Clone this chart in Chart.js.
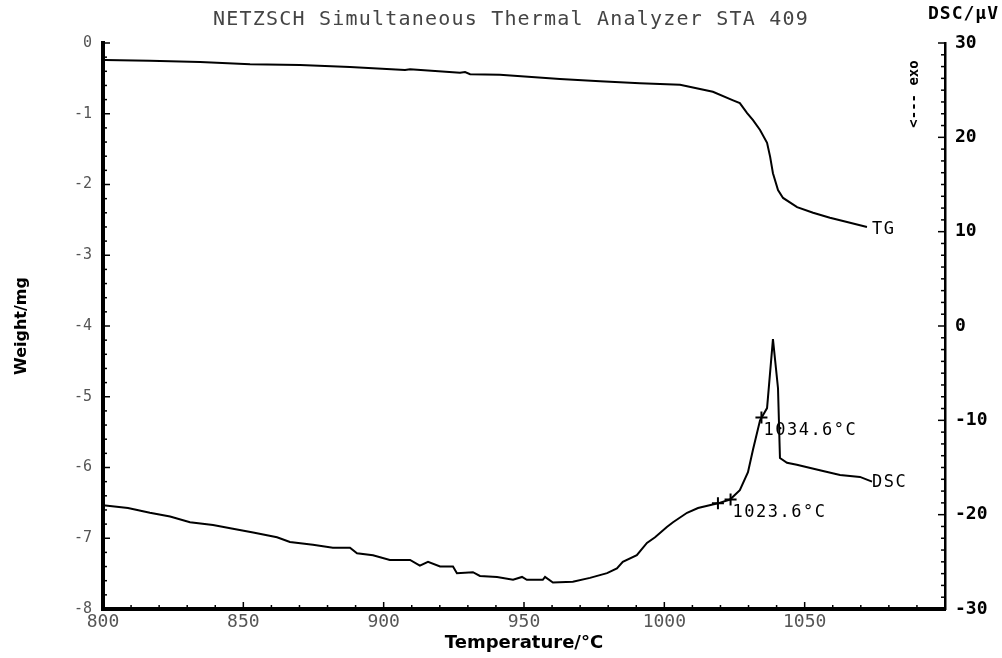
<!DOCTYPE html>
<html>
<head>
<meta charset="utf-8">
<title>NETZSCH Simultaneous Thermal Analyzer STA 409</title>
<script src="https://cdn.jsdelivr.net/npm/chart.js@4.4.1/dist/chart.umd.min.js"></script>
<style>
html, body { margin: 0; padding: 0; background: #fff; }
#wrap { width: 1002px; height: 658px; }
</style>
</head>
<body>
<div id="wrap"><canvas id="sta" width="1002" height="658"></canvas></div>
<script>
// TG trace: weight change (mg) against temperature (°C)
var tgTemp = [800.7, 816.7, 834.6, 852.4, 870.2, 888.0, 907.6, 909.4, 927.2, 929.0, 930.8, 941.4,
    962.8, 977.1, 991.3, 1005.6, 1017.3, 1024.5, 1026.9, 1029.5, 1031.6, 1034.1, 1036.6, 1037.7,
    1038.7, 1040.5, 1042.3, 1047.3, 1053.0, 1059.0, 1065.1, 1072.2];
var tgWeight = [-0.24, -0.25, -0.27, -0.30, -0.31, -0.34, -0.38, -0.37, -0.42, -0.41, -0.44, -0.45,
    -0.51, -0.54, -0.57, -0.59, -0.69, -0.81, -0.85, -0.99, -1.09, -1.23, -1.41, -1.61,
    -1.84, -2.08, -2.19, -2.32, -2.40, -2.47, -2.53, -2.60];

// DSC trace: signal (µV) against temperature (°C)
var dscTemp = [800.0, 808.9, 816.7, 823.9, 831.0, 839.2, 846.3, 853.5, 862.0, 866.6, 874.8, 881.9,
    888.0, 890.5, 896.2, 902.2, 909.4, 912.9, 915.8, 920.1, 924.7, 926.1, 931.8, 934.3,
    940.4, 946.1, 949.3, 951.0, 956.7, 957.5, 960.3, 967.4, 973.5, 979.6, 983.1, 985.2,
    990.2, 993.8, 996.7, 1000.9, 1003.1, 1008.1, 1012.0, 1019.1, 1023.4, 1026.9, 1029.8, 1031.6,
    1034.1, 1036.6, 1038.7, 1040.5, 1041.2, 1043.7, 1047.2, 1055.4, 1062.6, 1069.7, 1074.0];
var dscSignal = [-19.0, -19.3, -19.8, -20.2, -20.8, -21.1, -21.5, -21.9, -22.4, -22.9, -23.2, -23.5,
    -23.5, -24.1, -24.3, -24.8, -24.8, -25.4, -25.0, -25.5, -25.5, -26.2, -26.1, -26.5,
    -26.6, -26.9, -26.6, -26.9, -26.9, -26.6, -27.2, -27.1, -26.7, -26.2, -25.7, -25.0,
    -24.3, -23.0, -22.4, -21.3, -20.8, -19.8, -19.3, -18.8, -18.4, -17.4, -15.5, -13.1,
    -10.0, -8.7, -1.4, -6.6, -14.0, -14.5, -14.7, -15.3, -15.8, -16.0, -16.5];

// evaluation marks on the DSC curve
var markTemp = [1019.1, 1023.6, 1034.6];
var markSignal = [-18.8, -18.4, -9.7];
var markLabels = ['', '1023.6°C', '1034.6°C'];

var titleText = 'NETZSCH Simultaneous Thermal Analyzer STA 409';

function toPoints(xs, ys)
{
    return xs.map(function(v, i){ return {x: v, y: ys[i]}; });
}

//Inward tick marks (major + minor) on the three axes
var tickMarks = {
    id: 'tickMarks',
    afterDraw: function(chart)
    {
        var ctx = chart.ctx;
        var area = chart.chartArea;
        ctx.save();
        ctx.strokeStyle = '#000';
        ctx.lineWidth = 1.5;

        function marks(scale, minor, every, draw)
        {
            var n = Math.round((scale.max - scale.min) / minor);
            for(var i = 0; i <= n; i++)
            {
                var p = scale.getPixelForValue(scale.min + i * minor);
                draw(p, (i % every === 0) ? 7 : 4);
            }
        }
        marks(chart.scales.x, 10, 5, function(p, len){
            ctx.beginPath(); ctx.moveTo(p, area.bottom); ctx.lineTo(p, area.bottom - len); ctx.stroke();
        });
        marks(chart.scales.y, 0.2, 5, function(p, len){
            ctx.beginPath(); ctx.moveTo(area.left, p); ctx.lineTo(area.left + len, p); ctx.stroke();
        });
        marks(chart.scales.y2, 1.25, 8, function(p, len){
            ctx.beginPath(); ctx.moveTo(area.right, p); ctx.lineTo(area.right - len, p); ctx.stroke();
        });
        ctx.restore();
    }
};

//Plotter texts: title, curve names, evaluation temperatures
var plotText = {
    id: 'plotText',
    afterDraw: function(chart)
    {
        var ctx = chart.ctx;
        var area = chart.chartArea;
        var sx = chart.scales.x, sy = chart.scales.y, sy2 = chart.scales.y2;
        ctx.save();
        ctx.textBaseline = 'middle';

        ctx.fillStyle = '#444';
        ctx.font = '20px "DejaVu Sans Mono"';
        ctx.letterSpacing = '1.2px';
        ctx.textAlign = 'center';
        ctx.fillText(titleText, (area.left + area.right) / 2 - 13, 20);

        ctx.fillStyle = '#000';
        ctx.textAlign = 'left';
        ctx.font = 'bold 18px "DejaVu Sans Mono"';
        ctx.letterSpacing = '1px';
        ctx.fillText('DSC/µV', area.right - 17, 14);

        ctx.font = '17px "DejaVu Sans Mono"';
        ctx.letterSpacing = '1.5px';
        var tgLast = tgTemp.length - 1;
        ctx.fillText('TG', sx.getPixelForValue(tgTemp[tgLast]) + 5, sy.getPixelForValue(tgWeight[tgLast]) + 3);
        var dscLast = dscTemp.length - 1;
        ctx.fillText('DSC', sx.getPixelForValue(dscTemp[dscLast]), sy2.getPixelForValue(dscSignal[dscLast]) + 1);

        for(var i = 0; i < markLabels.length; i++)
        {
            if(!markLabels[i]) continue;
            ctx.fillText(markLabels[i], sx.getPixelForValue(markTemp[i]) + 2, sy2.getPixelForValue(markSignal[i]) + 13);
        }

        ctx.font = 'bold 14px "DejaVu Sans Mono"';
        ctx.letterSpacing = '0px';
        ctx.translate(area.right - 31, 94);
        ctx.rotate(-Math.PI / 2);
        ctx.textAlign = 'center';
        ctx.fillText('<--- exo', 0, 0);
        ctx.restore();
    }
};

new Chart(document.getElementById('sta'), {
    type: 'line',
    data: {
        datasets: [
            {
                label: 'TG',
                data: toPoints(tgTemp, tgWeight),
                yAxisID: 'y',
                borderColor: '#000',
                borderWidth: 2,
                pointRadius: 0,
                tension: 0
            },
            {
                label: 'DSC',
                data: toPoints(dscTemp, dscSignal),
                yAxisID: 'y2',
                borderColor: '#000',
                borderWidth: 2,
                pointRadius: 0,
                tension: 0
            },
            {
                label: 'marks',
                data: toPoints(markTemp, markSignal),
                yAxisID: 'y2',
                showLine: false,
                pointStyle: 'cross',
                pointRadius: 6,
                borderColor: '#000',
                borderWidth: 2
            }
        ]
    },
    options: {
        responsive: false,
        animation: false,
        layout: { padding: { top: 43, left: 0, right: 0, bottom: 0 } },
        plugins: {
            legend: { display: false },
            tooltip: { enabled: false }
        },
        scales: {
            x: {
                type: 'linear',
                min: 800,
                max: 1100,
                grid: { display: false, drawTicks: false },
                border: { display: true, color: '#000', width: 4 },
                ticks: {
                    stepSize: 50,
                    autoSkip: false,
                    maxRotation: 0,
                    padding: 3,
                    color: '#555',
                    font: { family: 'DejaVu Sans Mono', size: 18 },
                    callback: function(v){ return v > 1050 ? '' : v; }
                },
                title: {
                    display: true,
                    text: 'Temperature/°C',
                    color: '#000',
                    font: { family: 'DejaVu Sans', size: 18, weight: 'bold' },
                    padding: { top: 0, bottom: 4 }
                },
                afterFit: function(s){ s.height = 49; }
            },
            y: {
                position: 'left',
                min: -8,
                max: 0,
                grid: { display: false, drawTicks: false },
                border: { display: true, color: '#000', width: 4 },
                ticks: {
                    stepSize: 1,
                    padding: 11,
                    color: '#555',
                    font: { family: 'DejaVu Sans Mono', size: 15 }
                },
                title: {
                    display: true,
                    text: 'Weight/mg',
                    color: '#000',
                    font: { family: 'DejaVu Sans', size: 16, weight: 'bold' },
                    padding: { top: 12, bottom: 0 }
                },
                afterFit: function(s){ s.width = 103; }
            },
            y2: {
                position: 'right',
                min: -30,
                max: 30,
                grid: { display: false, drawTicks: false },
                border: { display: true, color: '#000', width: 2.5 },
                ticks: {
                    stepSize: 10,
                    padding: 10,
                    color: '#000',
                    font: { family: 'DejaVu Sans Mono', size: 18, weight: 'bold' }
                },
                afterFit: function(s){ s.width = 57; }
            }
        }
    },
    plugins: [tickMarks, plotText]
});
</script>
</body>
</html>
